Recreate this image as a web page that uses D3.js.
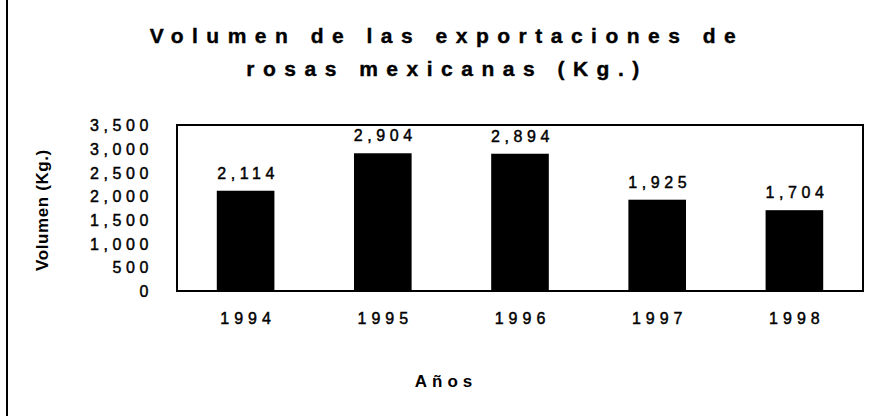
<!DOCTYPE html>
<html><head><meta charset="utf-8">
<script src="https://cdn.jsdelivr.net/npm/d3@7"></script>
<style>
html,body{margin:0;padding:0;background:#fff;}
text{font-family:"Liberation Sans",Arial,sans-serif;fill:#000;}
.num{stroke:#000;stroke-width:0.45px;}
</style></head>
<body>
<svg id="chart" width="873" height="416"></svg>
<script>
const titleLines = ["Volumen de las exportaciones de", "rosas mexicanas (Kg.)"];
const categories = ["1994", "1995", "1996", "1997", "1998"];
const values = [2114, 2904, 2894, 1925, 1704];
const yTicks = [0, 500, 1000, 1500, 2000, 2500, 3000, 3500];
const yTitle = "Volumen (Kg.)";
const xTitle = "Años";

const svg = d3.select("#chart");
const W = 873, H = 416;
const m = {left: 177, right: 863, top: 125, bottom: 291};

const x = d3.scaleBand().domain(categories).range([m.left, m.right]).paddingInner(0.58).paddingOuter(0.29);
const y = d3.scaleLinear().domain([0, 3500]).range([m.bottom, m.top]);

// page border line at left (scan edge)
svg.append("line").attr("x1", 7).attr("x2", 7).attr("y1", 0).attr("y2", H)
  .attr("stroke", "#000").attr("stroke-width", 2);

// title
const t = svg.append("text").attr("text-anchor", "middle")
  .style("font-weight", "bold").style("font-size", "21px").style("letter-spacing", "8.5px")
  .style("stroke", "#000").style("stroke-width", "0.4px");
titleLines.forEach((s, i) => {
  t.append("tspan").attr("x", 447).attr("y", 43 + i * 33).text(s);
});

// bars
svg.append("g").selectAll("rect").data(values).join("rect")
  .attr("x", (d, i) => x(categories[i]))
  .attr("width", x.bandwidth())
  .attr("y", d => y(d))
  .attr("height", d => y(0) - y(d))
  .attr("fill", "#000");

// plot frame
svg.append("rect").attr("x", m.left).attr("y", m.top)
  .attr("width", m.right - m.left).attr("height", m.bottom - m.top)
  .attr("fill", "none").attr("stroke", "#000").attr("stroke-width", 2);

// y axis (labels only)
const yAxis = d3.axisLeft(y).tickValues(yTicks).tickFormat(d3.format(",")).tickSize(0).tickPadding(24);
const gy = svg.append("g").attr("transform", `translate(${m.left},0)`).call(yAxis);
gy.select(".domain").remove();
gy.selectAll("text").attr("class", "num").style("font-size", "16px").style("letter-spacing", "4.6px")
  .style("font-family", "'Liberation Sans',Arial,sans-serif").attr("dy", "0.35em");

// x axis
const xAxis = d3.axisBottom(x).tickSize(0).tickPadding(22);
const gx = svg.append("g").attr("transform", `translate(0,${m.bottom})`).call(xAxis);
gx.select(".domain").remove();
gx.selectAll("text").attr("class", "num").attr("dx", "2.5px").style("font-size", "16px").style("letter-spacing", "5px")
  .style("font-family", "'Liberation Sans',Arial,sans-serif");

// data labels with white boxes
const lab = svg.append("g").selectAll("g").data(values).join("g")
  .attr("transform", (d, i) => `translate(${x(categories[i]) + x.bandwidth() / 2},${y(d) - 12})`);
lab.append("rect").attr("x", -34).attr("y", -15).attr("width", 68).attr("height", 20).attr("fill", "#fff");
lab.append("text").attr("class", "num").attr("text-anchor", "middle").attr("dx", "2.5px")
  .style("font-size", "16px").style("letter-spacing", "4.6px")
  .text(d => d3.format(",")(d));

// axis titles
svg.append("text").attr("transform", "translate(48,210) rotate(-90)")
  .attr("text-anchor", "middle").style("font-weight", "bold").style("font-size", "17px")
  .style("letter-spacing", "0.6px").text(yTitle);
svg.append("text").attr("x", 446).attr("y", 387).attr("text-anchor", "middle")
  .style("font-weight", "bold").style("font-size", "17px").style("letter-spacing", "5px").text(xTitle);
</script>
</body></html>
